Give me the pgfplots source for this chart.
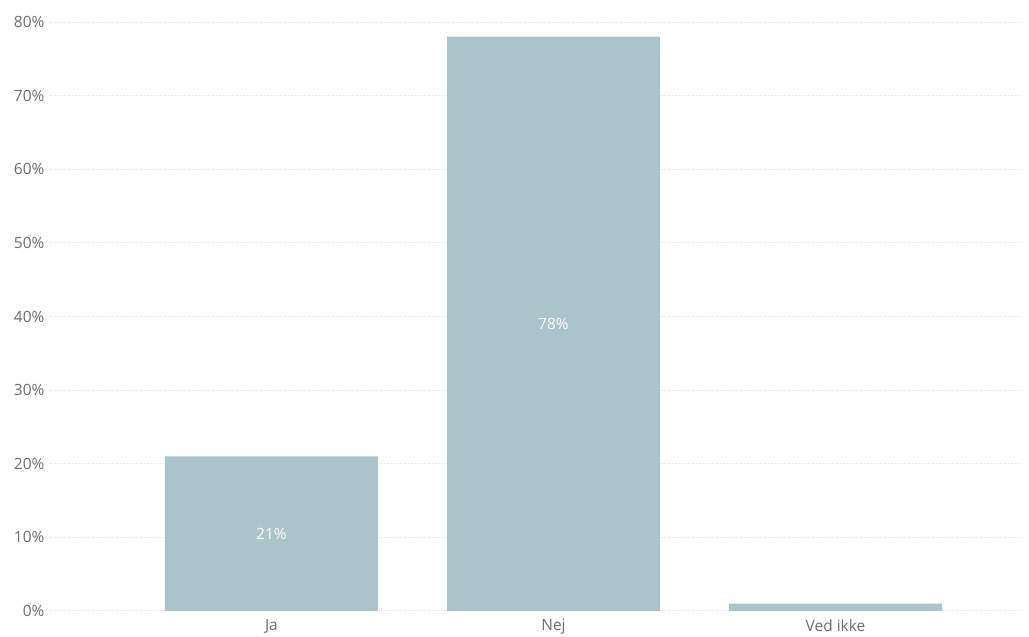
\documentclass[border=0pt]{standalone}
\usepackage{fontspec}
\setmainfont{Open Sans}
\usepackage{pgfplots}
\pgfplotsset{compat=1.18}
\definecolor{barc}{RGB}{171,196,204}
\definecolor{tickc}{RGB}{110,110,110}
\definecolor{gridc}{RGB}{225,225,225}
\begin{document}
\begin{tikzpicture}
\useasboundingbox (0pt,0pt) rectangle (1029pt,637pt);
\begin{axis}[
  at={(50pt,26pt)}, anchor=south west,
  scale only axis, width=970pt, height=589pt,
  xmin=-0.785, xmax=2.654, ymin=0, ymax=80,
  axis line style={draw=none},
  major tick length=0pt,
  ytick={0,10,...,80},
  yticklabel={\pgfmathprintnumber{\tick}\%},
  xtick={0,1,2}, xticklabels={Ja,Nej,Ved ikke},
  ymajorgrids, grid style={gridc, dotted, line width=1pt},
  tick label style={font=\fontsize{15.5}{18}\selectfont, text=tickc},
  /pgf/number format/assume math mode=true,
  yticklabel style={xshift=-2pt},
  xticklabel style={yshift=-5pt},
  clip=false,
]
\addplot[ybar, bar width=0.755, fill=barc, draw=none, bar shift=0pt]
  coordinates {(0,21) (1,78) (2,1)};
\addplot[draw=none, mark=none, point meta=explicit symbolic,
  nodes near coords={\pgfplotspointmeta\%},
  every node near coord/.style={anchor=center, text=white, font=\fontsize{15.5}{18}\selectfont}]
  coordinates {(0,10.5)[21] (1,39)[78]};
\end{axis}
\end{tikzpicture}
\end{document}
